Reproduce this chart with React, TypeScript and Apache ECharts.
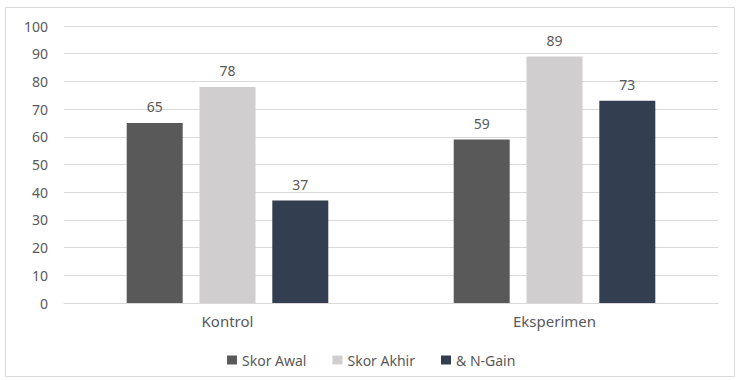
import React, { useEffect, useRef } from "react";
import * as echarts from "echarts";

const categories = ["Kontrol", "Eksperimen"];
const seriesNames = ["Skor Awal", "Skor Akhir", "& N-Gain"];
const skorAwal = [65, 59];
const skorAkhir = [78, 89];
const nGain = [37, 73];
const seriesColors = ["#595959", "#d0cece", "#333f50"];

const FONT = "'Noto Sans', 'Open Sans', sans-serif";
const TEXT = "#595959";

export default function App() {
  const ref = useRef<HTMLDivElement>(null);

  useEffect(() => {
    if (!ref.current) return;
    const chart = echarts.init(ref.current, undefined, { renderer: "svg" });
    const values = [skorAwal, skorAkhir, nGain];
    chart.setOption({
      animation: false,
      backgroundColor: "#ffffff",
      textStyle: { fontFamily: FONT },
      graphic: [
        {
          type: "rect",
          shape: { x: 5.5, y: 7.5, width: 729, height: 369 },
          style: { fill: "none", stroke: "#d9d9d9", lineWidth: 1 },
          silent: true,
        },
      ],
      grid: { left: 64, right: 18, top: 26, bottom: 77 },
      legend: {
        top: 348,
        left: 222,
        itemWidth: 10,
        itemHeight: 9,
        itemGap: 26,
        icon: "rect",
        textStyle: { color: TEXT, fontSize: 14, fontFamily: FONT },
        data: seriesNames,
      },
      xAxis: {
        type: "category",
        data: categories,
        axisLine: { lineStyle: { color: "#d9d9d9", width: 1 } },
        axisTick: { show: false },
        axisLabel: { color: TEXT, fontSize: 15, margin: 10, fontFamily: FONT },
      },
      yAxis: {
        type: "value",
        min: 0,
        max: 100,
        interval: 10,
        axisLine: { show: false },
        axisTick: { show: false },
        splitLine: { lineStyle: { color: "#d9d9d9", width: 1 } },
        axisLabel: { color: TEXT, fontSize: 14, margin: 16, fontFamily: FONT },
      },
      series: seriesNames.map((name, i) => ({
        name,
        type: "bar",
        data: values[i],
        barWidth: 56,
        barGap: "30%",
        itemStyle: { color: seriesColors[i] },
        label: {
          show: true,
          position: "top",
          distance: 9,
          color: TEXT,
          fontSize: 14,
          fontFamily: FONT,
        },
      })),
    });
    return () => chart.dispose();
  }, []);

  return (
    <div
      ref={ref}
      style={{ position: "fixed", left: 0, top: 0, width: 736, height: 380 }}
    />
  );
}
